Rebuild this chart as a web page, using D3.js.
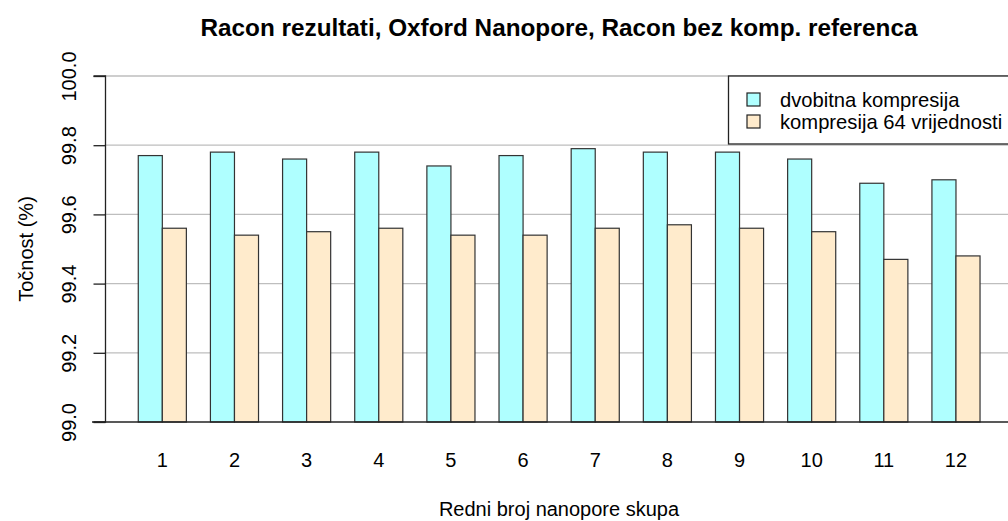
<!DOCTYPE html>
<html>
<head>
<meta charset="utf-8">
<script src="https://cdn.jsdelivr.net/npm/d3@7"></script>
<style>
  body { margin: 0; background: #fff; }
  svg text { font-family: "Liberation Sans", Arial, sans-serif; fill: #000; }
</style>
</head>
<body>
<div class="chart"></div>
<script>
var w = 1008;
var h = 521;

// data
var groups = ["1", "2", "3", "4", "5", "6", "7", "8", "9", "10", "11", "12"];
var dvobitna = [99.77, 99.78, 99.76, 99.78, 99.74, 99.77, 99.79, 99.78, 99.78, 99.76, 99.69, 99.70];
var komp64 = [99.56, 99.54, 99.55, 99.56, 99.54, 99.54, 99.56, 99.57, 99.56, 99.55, 99.47, 99.48];
var seriesNames = ["dvobitna kompresija", "kompresija 64 vrijednosti"];
var seriesColors = ["#afffff", "#ffebcc"];
var yTicks = [99.0, 99.2, 99.4, 99.6, 99.8, 100.0];

var svg = d3.select(".chart").append("svg")
    .attr("width", w)
    .attr("height", h);

// barplot style units: each group = 1 space + 2 bars
var x = d3.scaleLinear().domain([-0.4, 37.4]).range([104.6, 1013.7]);
var y = d3.scaleLinear().domain([99, 100]).range([422, 76]);

// grid lines
svg.append("g").selectAll("line")
    .data(yTicks.slice(1))
    .enter().append("line")
    .attr("x1", x(-0.4)).attr("x2", w)
    .attr("y1", d => y(d)).attr("y2", d => y(d))
    .style("stroke", "#bebebe")
    .style("stroke-width", 1.3);

// bars
var bars = [];
groups.forEach(function(g, i){
    bars.push({x0: 1 + 3 * i, v: dvobitna[i], s: 0});
    bars.push({x0: 2 + 3 * i, v: komp64[i], s: 1});
});
svg.append("g").selectAll("rect")
    .data(bars)
    .enter().append("rect")
    .attr("x", d => x(d.x0))
    .attr("width", d => x(d.x0 + 1) - x(d.x0))
    .attr("y", d => y(d.v))
    .attr("height", d => y(99) - y(d.v))
    .style("fill", d => seriesColors[d.s])
    .style("stroke", "#333")
    .style("stroke-width", 1.2);

// bottom line
svg.append("line")
    .attr("x1", 92).attr("x2", w)
    .attr("y1", y(99)).attr("y2", y(99))
    .style("stroke", "#222").style("stroke-width", 1.3);

// y axis
var yAxis = d3.axisLeft(y).tickValues(yTicks).tickFormat(d3.format(".1f")).tickSize(12).tickPadding(8);
var ya = svg.append("g").attr("transform", `translate(${105.5},0)`).call(yAxis);
ya.select(".domain").attr("d", `M-12,${y(100)}H0V${y(99)}H-12`).style("stroke", "#222").style("stroke-width", 1.3);
ya.selectAll(".tick line").style("stroke", "#222").style("stroke-width", 1.3);
ya.selectAll(".tick text")
    .style("font-size", "20px")
    .style("font-family", "Liberation Sans, Arial, sans-serif")
    .attr("x", null).attr("dy", null)
    .attr("text-anchor", "middle")
    .attr("transform", "translate(-29.5,0) rotate(-90)");

// x labels
svg.append("g").selectAll("text")
    .data(groups)
    .enter().append("text")
    .attr("x", (d, i) => x(2 + 3 * i))
    .attr("y", 467)
    .attr("text-anchor", "middle")
    .style("font-size", "20px")
    .text(d => d);

// titles
svg.append("text")
    .attr("x", 559).attr("y", 36)
    .attr("text-anchor", "middle")
    .style("font-size", "24.3px").style("font-weight", "bold")
    .text("Racon rezultati, Oxford Nanopore, Racon bez komp. referenca");
svg.append("text")
    .attr("x", 559).attr("y", 516)
    .attr("text-anchor", "middle")
    .style("font-size", "20px")
    .text("Redni broj nanopore skupa");
svg.append("text")
    .attr("transform", `translate(32.5,249) rotate(-90)`)
    .attr("text-anchor", "middle")
    .style("font-size", "20px")
    .text("Točnost (%)");

// legend
var lg = svg.append("g");
lg.append("rect")
    .attr("x", 728.5).attr("y", 76)
    .attr("width", 300).attr("height", 68)
    .style("fill", "#fff").style("stroke", "#222").style("stroke-width", 1.3);
seriesNames.forEach(function(n, i){
    lg.append("rect")
        .attr("x", 747).attr("y", 93 + i * 22)
        .attr("width", 13).attr("height", 13)
        .style("fill", seriesColors[i]).style("stroke", "#222").style("stroke-width", 1.2);
    lg.append("text")
        .attr("x", 780).attr("y", 107 + i * 22)
        .style("font-size", "20.2px")
        .text(n);
});
</script>
</body>
</html>
